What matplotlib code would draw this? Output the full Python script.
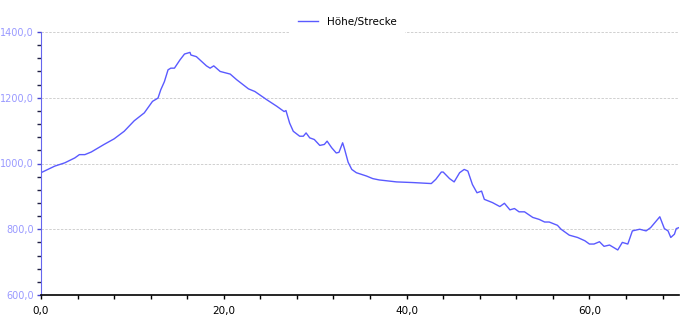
import matplotlib
matplotlib.use('Agg')
import matplotlib.pyplot as plt
from matplotlib.ticker import MultipleLocator, FuncFormatter

# distance (km) and elevation (m)
strecke = [0.0, 1.5, 2.6, 3.7, 4.2, 4.8, 5.5, 6.9, 8.0, 9.1, 10.2, 11.3, 12.2, 12.8,
           13.1, 13.5, 13.9, 14.2, 14.6, 15.2, 15.7, 16.3, 16.4, 17.0, 18.1, 18.5,
           18.9, 19.6, 20.7, 21.4, 22.7, 23.4, 24.7, 25.8, 26.6, 26.8, 27.2, 27.6,
           28.3, 28.7, 29.0, 29.4, 29.9, 30.5, 31.0, 31.3, 31.8, 32.3, 32.6, 33.0,
           33.2, 33.6, 34.0, 34.5, 35.6, 36.3, 37.0, 38.9, 40.7, 42.7, 43.2, 43.8,
           44.0, 44.7, 45.2, 45.8, 46.3, 46.7, 47.2, 47.7, 48.2, 48.5, 49.4, 50.2,
           50.7, 51.3, 51.8, 52.3, 52.9, 53.8, 54.5, 55.1, 55.6, 56.5, 56.9, 57.8,
           58.7, 59.5, 60.0, 60.5, 61.1, 61.6, 62.2, 63.1, 63.6, 64.2, 64.7, 65.5,
           66.2, 66.7, 67.7, 68.2, 68.6, 68.9, 69.3, 69.5, 69.8]
hoehe = [972, 992, 1002, 1017, 1027, 1027, 1035, 1058, 1075, 1098, 1130, 1154, 1189, 1199,
         1224, 1249, 1285, 1290, 1290, 1315, 1333, 1338, 1330, 1325, 1297, 1290,
         1297, 1280, 1272, 1255, 1227, 1219, 1194, 1174, 1158, 1161, 1123, 1098,
         1083, 1083, 1093, 1078, 1073, 1055, 1058, 1068, 1048, 1032, 1034, 1063,
         1045, 1004, 982, 972, 962, 954, 950, 944, 942, 939, 952, 974,
         974, 954, 944, 972, 982, 977, 936, 911, 916, 891, 881, 869,
         879, 859, 863, 853, 853, 836, 830, 822, 822, 812, 800, 782,
         775, 765, 755, 755, 762, 748, 752, 737, 760, 755, 795, 800,
         795, 805, 838, 802, 795, 775, 785, 802, 805]

fig = plt.figure(figsize=(6.94, 3.22), dpi=100)
ax = fig.add_axes([41/694, 1-295/322, (679-41)/694, (295-32)/322])

ax.plot(strecke, hoehe, color='#5a5aff', lw=1.0, label='Höhe/Strecke')

ax.set_xlim(0, 69.8)
ax.set_ylim(600, 1400)
ax.xaxis.set_major_locator(MultipleLocator(20))
ax.xaxis.set_minor_locator(MultipleLocator(4))
ax.yaxis.set_major_locator(MultipleLocator(200))
ax.yaxis.set_minor_locator(MultipleLocator(40))
fmt = FuncFormatter(lambda v, p: ('%.1f' % v).replace('.', ','))
ax.xaxis.set_major_formatter(fmt)
ax.yaxis.set_major_formatter(fmt)

ax.grid(axis='y', which='major', color='#d0d0d0', ls=(0, (2.5, 1.5)), lw=0.7)
ax.set_axisbelow(True)

for s in ['top', 'right']:
    ax.spines[s].set_visible(False)
ax.spines['left'].set_color('#6666ee')
ax.spines['bottom'].set_color('black')
ax.spines['bottom'].set_linewidth(1.2)

ax.tick_params(axis='y', which='both', direction='out', length=3, width=1,
               colors='#222244', labelcolor='#9999ff', labelsize=7, pad=2)
ax.tick_params(axis='y', which='major', color='#4444cc')
ax.tick_params(axis='x', which='both', direction='out', length=3, width=1,
               colors='black', labelsize=7.5, pad=5)

fig.legend(loc='center', bbox_to_anchor=(0.5, 1-22/322), frameon=True,
           fancybox=False, edgecolor='white', facecolor='white', framealpha=1,
           fontsize=7.5, handlelength=2.0, borderpad=0.7, borderaxespad=0)

fig.savefig('out.png', dpi=100)
